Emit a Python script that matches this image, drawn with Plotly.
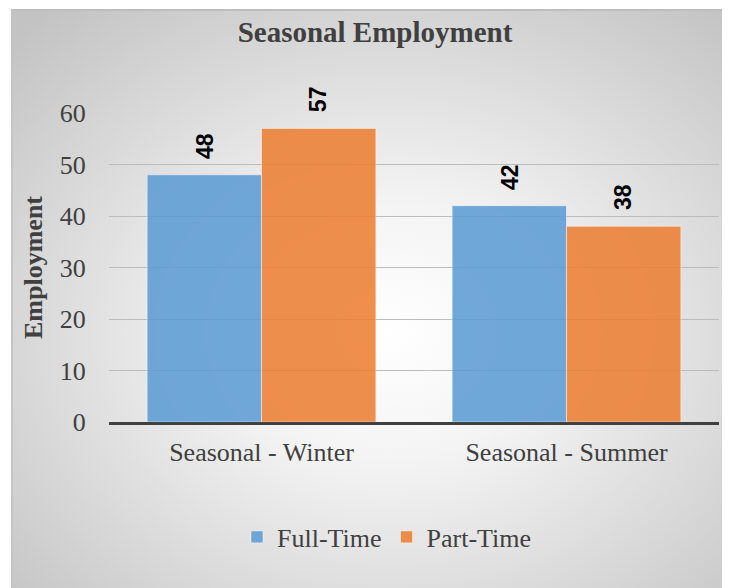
import base64
import plotly.graph_objects as go

categories = ["Seasonal - Winter", "Seasonal - Summer"]
full_time = [48, 42]
part_time = [57, 38]
series_names = ["Full-Time", "Part-Time"]
y_ticks = [0, 10, 20, 30, 40, 50, 60]

W, H = 730, 588
L, R, T, B = 101, 19, 105, 174
pw = W - L - R
ph = H - T - B
px0, py0 = 3, 1  # gradient panel origin in figure pixels

svg = """<svg xmlns='http://www.w3.org/2000/svg' width='727' height='587' viewBox='0 0 727 587' preserveAspectRatio='none'>
<defs><radialGradient id='g' cx='0.52' cy='0.55' r='0.72'>
<stop offset='0' stop-color='#ffffff'/><stop offset='0.3' stop-color='#f4f4f4'/><stop offset='1' stop-color='#c3c3c3'/>
</radialGradient></defs>
<rect x='0' y='0' width='727' height='587' fill='url(#g)'/>
<rect x='0' y='0' width='727' height='2' fill='#bdbdbd'/>
<rect x='0' y='0' width='2' height='587' fill='#c4c4c4'/>
</svg>"""
src = "data:image/svg+xml;base64," + base64.b64encode(svg.encode()).decode()

fig = go.Figure()
colors = ["#5b9bd5", "#ed7d31"]
for name, vals, col in zip(series_names, [full_time, part_time], colors):
    fig.add_trace(go.Bar(
        name=name, x=categories, y=vals, opacity=0.86,
        marker=dict(color=col, line=dict(color="rgba(255,255,255,0.5)", width=1)),
    ))

# rotated data labels above each bar
bar_half = pw / len(categories) * 0.75 / 4
annotations = []
for i, vals in enumerate([full_time, part_time]):
    shift = -bar_half if i == 0 else bar_half
    for cat, v in zip(categories, vals):
        annotations.append(dict(
            x=cat, y=v, xref="x", yref="y", text=f"<b>{v}</b>", showarrow=False,
            textangle=-90, xanchor="center", yanchor="bottom", xshift=shift, yshift=14,
            font=dict(family="Liberation Sans, Arial", size=23, color="#000000"),
        ))

fig.update_layout(
    width=W, height=H,
    margin=dict(l=L, r=R, t=T, b=B),
    paper_bgcolor="white", plot_bgcolor="rgba(0,0,0,0)",
    barmode="group", bargap=0.25, bargroupgap=0,
    title=dict(text="<b>Seasonal Employment</b>", x=367 / W, xanchor="center",
               y=1 - 24 / H, yanchor="middle", yref="container",
               font=dict(family="Liberation Serif, Times New Roman", size=29, color="#404040")),
    font=dict(family="Liberation Serif, Times New Roman", color="#404040"),
    showlegend=True,
    legend=dict(orientation="h", xref="paper", x=(379 - L) / pw, xanchor="center",
                y=-(529 - (H - B)) / ph, yanchor="middle",
                font=dict(size=26, color="#404040"), bgcolor="rgba(0,0,0,0)",
                traceorder="normal", itemwidth=30),
    annotations=annotations,
    images=[dict(source=src, xref="paper", yref="paper",
                 x=(px0 - L) / pw, y=((H - B) - py0) / ph,
                 sizex=(W - px0) / pw, sizey=(H - py0) / ph,
                 xanchor="left", yanchor="top", sizing="stretch", layer="below")],
)

fig.update_yaxes(range=[0, 60], tickvals=y_ticks, showgrid=True, gridcolor="#bcbcbc", gridwidth=1,
                 zeroline=False, ticks="outside", ticklen=17, tickcolor="rgba(0,0,0,0)",
                 tickfont=dict(size=26, color="#404040"),
                 title=dict(text="<b>Employment</b>", font=dict(size=26, color="#404040"), standoff=9))
fig.update_xaxes(showline=True, linecolor="#404040", linewidth=3, ticks="outside", ticklen=5,
                 tickcolor="rgba(0,0,0,0)", tickfont=dict(size=26, color="#404040"))

fig.write_html("out.html")
